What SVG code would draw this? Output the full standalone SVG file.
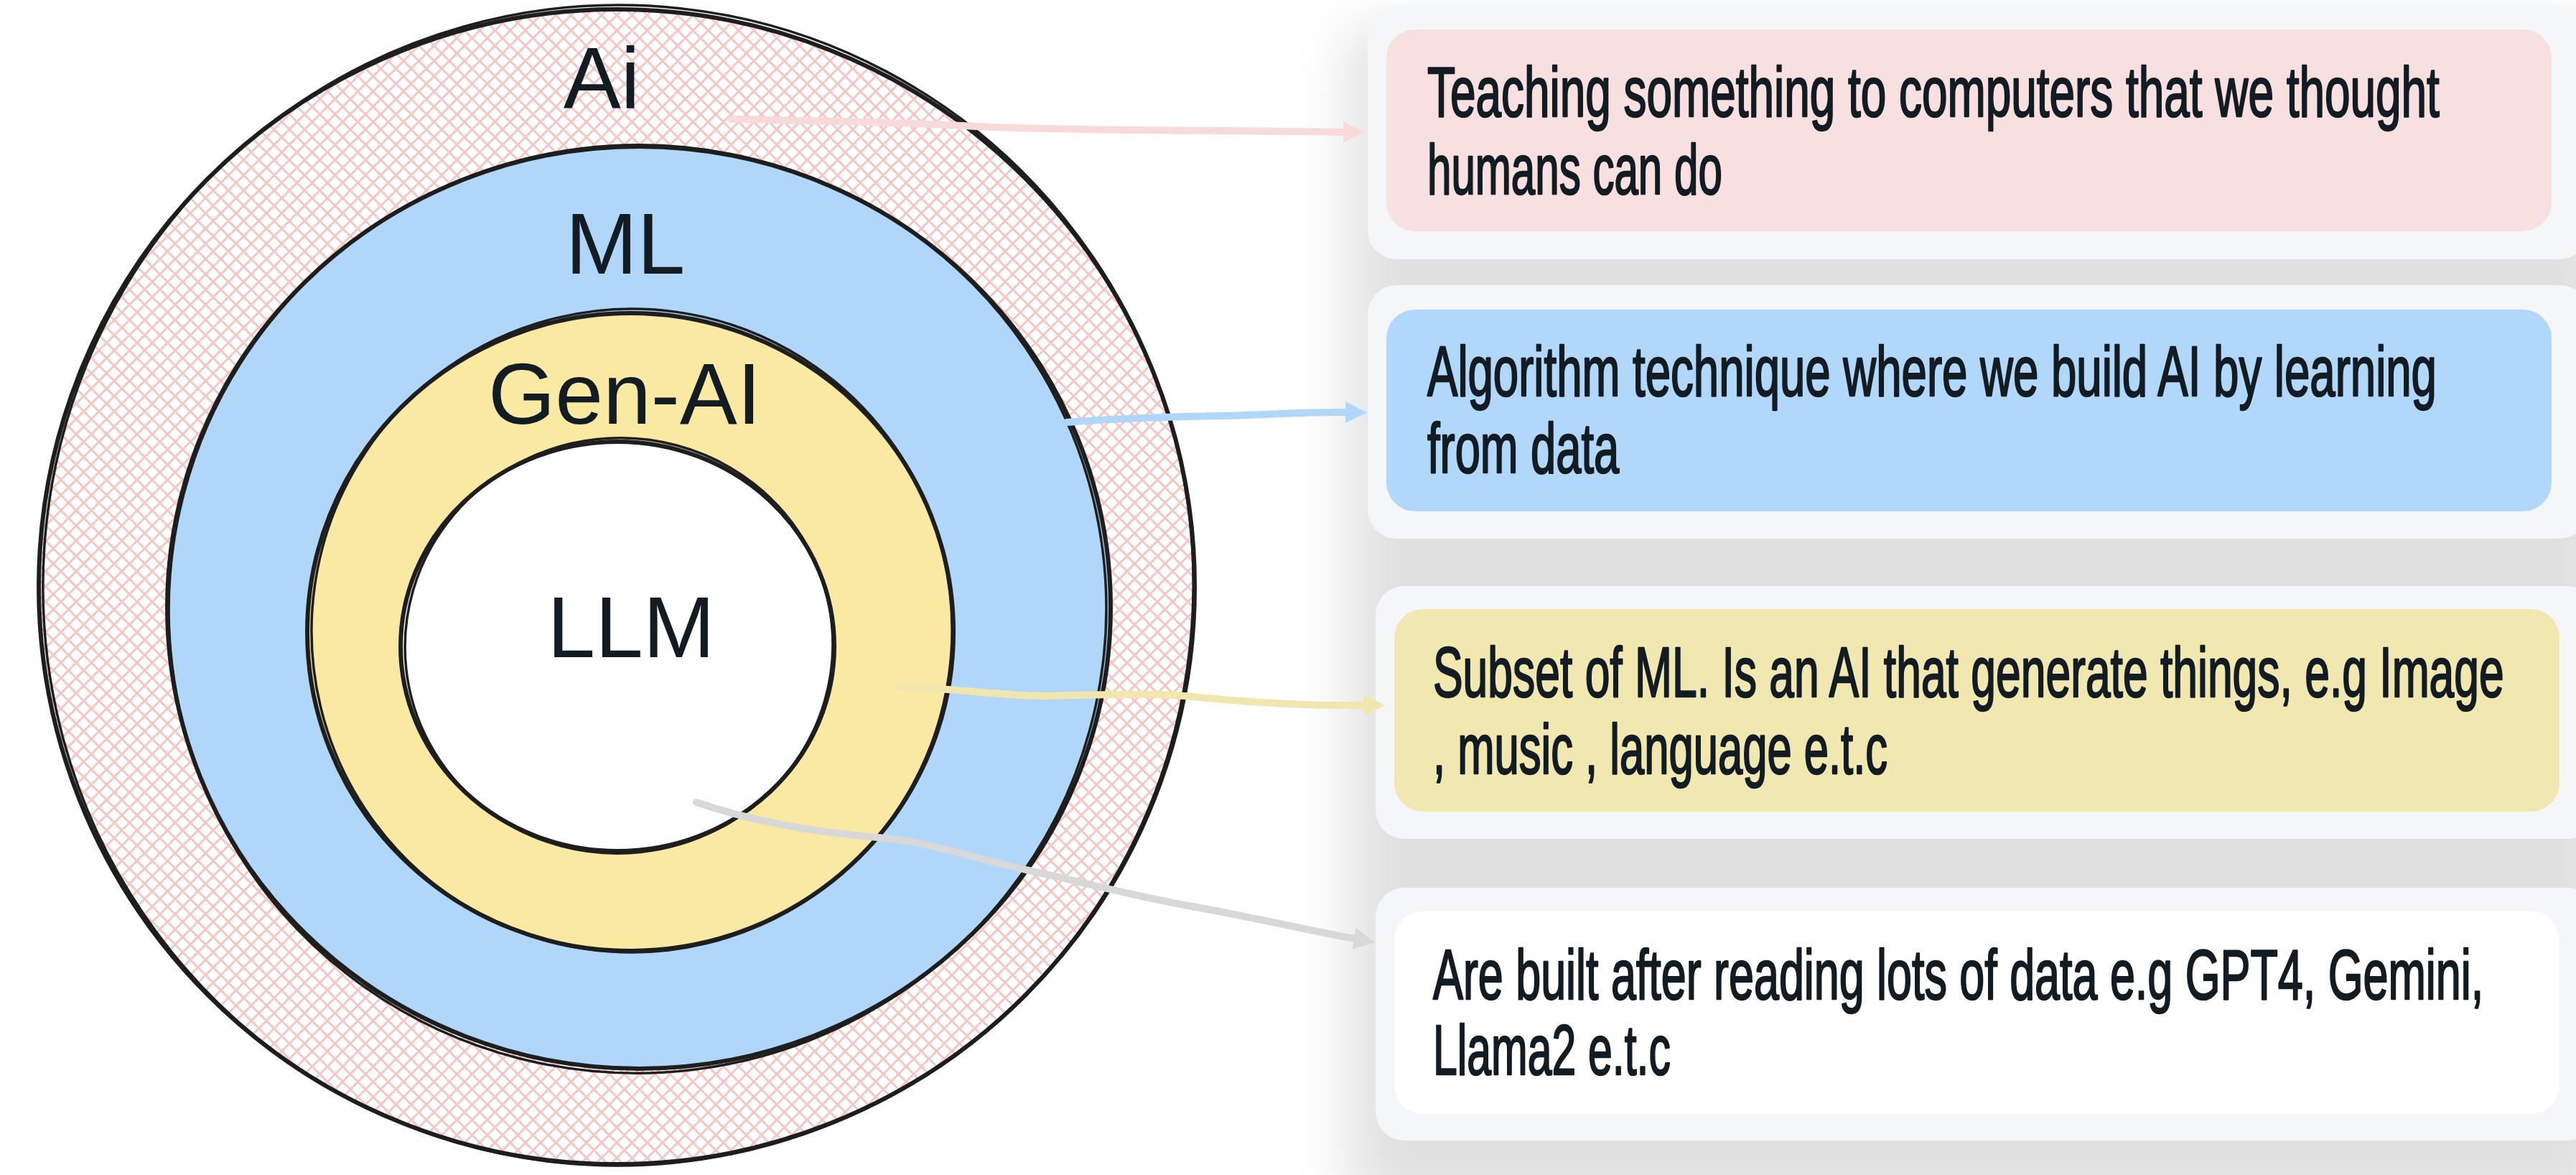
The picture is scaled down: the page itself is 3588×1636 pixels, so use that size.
<svg xmlns="http://www.w3.org/2000/svg" width="3588" height="1636" viewBox="0 0 3588 1636">
<style>
.ring{stroke:#1e1e1e;stroke-width:6;fill:none;stroke-linecap:round}
.ring2{stroke:#1e1e1e;stroke-width:3.5;fill:none}
.lbl{font-family:"Liberation Sans",Arial,sans-serif;font-size:120px;fill:#131b23;text-anchor:middle}
.txt{font-family:"Liberation Sans",Arial,sans-serif;font-size:98px;fill:#131b23;stroke:#131b23;stroke-width:2.5;stroke-linejoin:round}
.panel{fill:#f5f6f8}
.conn{fill:none;stroke-width:10;stroke-linecap:round}
</style>
<defs>
<pattern id="hatch" patternUnits="userSpaceOnUse" width="15" height="15" patternTransform="rotate(45)">
<rect width="15" height="15" fill="#ffffff"/>
<path d="M0 7.5H15M7.5 0V15" stroke="#f4c6c6" stroke-width="3"/>
</pattern>
<filter id="shadow" x="-10%" y="-10%" width="120%" height="120%">
<feGaussianBlur stdDeviation="40"/>
</filter>
<marker id="ah-pink" markerUnits="userSpaceOnUse" markerWidth="40" markerHeight="40" refX="0" refY="15" orient="auto" viewBox="0 0 40 40"><path d="M0,0 L30,15 L0,30 Z" fill="#f9dadb"/></marker>
<marker id="ah-blue" markerUnits="userSpaceOnUse" markerWidth="40" markerHeight="40" refX="0" refY="15" orient="auto" viewBox="0 0 40 40"><path d="M0,0 L30,15 L0,30 Z" fill="#b0d6fa"/></marker>
<marker id="ah-yellow" markerUnits="userSpaceOnUse" markerWidth="40" markerHeight="40" refX="0" refY="15" orient="auto" viewBox="0 0 40 40"><path d="M0,0 L30,15 L0,30 Z" fill="#f1e6ae"/></marker>
<marker id="ah-gray" markerUnits="userSpaceOnUse" markerWidth="40" markerHeight="40" refX="0" refY="15" orient="auto" viewBox="0 0 40 40"><path d="M0,0 L30,15 L0,30 Z" fill="#d8d8d8"/></marker>
</defs>
<rect width="3588" height="1636" fill="#ffffff"/>

<g id="shadow-bg">
<rect x="1880" y="40" width="1760" height="1640" fill="#e0e0e0" filter="url(#shadow)"/>
</g>

<g id="node-ai">
<ellipse cx="859" cy="817" rx="805" ry="804" fill="url(#hatch)"/>
<ellipse class="ring" cx="859" cy="817" rx="805" ry="804"/>
<ellipse class="ring2" cx="861" cy="815" rx="801" ry="808" transform="rotate(6 861 815)"/>
<text class="lbl" x="838" y="150">Ai</text>
</g>

<g id="node-ml">
<ellipse cx="890" cy="846" rx="657" ry="642" fill="#b0d6fa"/>
<ellipse class="ring" cx="890" cy="846" rx="657" ry="642"/>
<ellipse class="ring2" cx="888" cy="848" rx="653" ry="646" transform="rotate(-7 888 848)"/>
<text class="lbl" x="871" y="381">ML</text>
</g>

<g id="node-genai">
<ellipse cx="878" cy="880" rx="450" ry="444" fill="#f9e9a3"/>
<ellipse class="ring" cx="878" cy="880" rx="450" ry="444"/>
<ellipse class="ring2" cx="880" cy="878" rx="446" ry="448" transform="rotate(8 880 878)"/>
<text class="lbl" x="870" y="590">Gen-AI</text>
</g>

<g id="node-llm">
<ellipse cx="860" cy="900" rx="302" ry="285" fill="#ffffff"/>
<ellipse class="ring" cx="860" cy="900" rx="302" ry="285"/>
<ellipse class="ring2" cx="862" cy="899" rx="298" ry="289" transform="rotate(-6 862 899)"/>
<text class="lbl" x="879" y="915">LLM</text>
</g>

<g id="node-desc-ai">
<rect class="panel" x="1905" y="8" width="1700" height="353" rx="40"/>
<rect x="1931" y="41" width="1623" height="281" rx="40" fill="#f8dfe0"/>
<g transform="translate(1988 0) scale(0.65 1)">
<text class="txt" x="0" y="162" textLength="2169" lengthAdjust="spacingAndGlyphs">Teaching something to computers that we thought</text>
<text class="txt" x="0" y="270" textLength="632" lengthAdjust="spacingAndGlyphs">humans can do</text>
</g>
</g>

<g id="node-desc-ml">
<rect class="panel" x="1905" y="397" width="1700" height="353" rx="40"/>
<rect x="1931" y="431" width="1623" height="281" rx="40" fill="#b1d7fa"/>
<g transform="translate(1988 0) scale(0.65 1)">
<text class="txt" x="0" y="551" textLength="2163" lengthAdjust="spacingAndGlyphs">Algorithm technique where we build AI by learning</text>
<text class="txt" x="0" y="658" textLength="411" lengthAdjust="spacingAndGlyphs">from data</text>
</g>
</g>

<g id="node-desc-genai">
<rect class="panel" x="1916" y="816" width="1700" height="352" rx="40"/>
<rect x="1942" y="848" width="1623" height="282" rx="40" fill="#f1e8b1"/>
<g transform="translate(1996 0) scale(0.65 1)">
<text class="txt" x="0" y="970" textLength="2295" lengthAdjust="spacingAndGlyphs">Subset of ML. Is an AI that generate things, e.g Image</text>
<text class="txt" x="0" y="1077" textLength="974" lengthAdjust="spacingAndGlyphs">, music , language e.t.c</text>
</g>
</g>

<g id="node-desc-llm">
<rect class="panel" x="1916" y="1236" width="1700" height="352" rx="40"/>
<rect x="1942" y="1269" width="1623" height="282" rx="40" fill="#ffffff"/>
<g transform="translate(1996 0) scale(0.65 1)">
<text class="txt" x="0" y="1391" textLength="2251" lengthAdjust="spacingAndGlyphs">Are built after reading lots of data e.g GPT4, Gemini,</text>
<text class="txt" x="0" y="1496" textLength="509" lengthAdjust="spacingAndGlyphs">Llama2 e.t.c</text>
</g>
</g>

<g id="connectors">
<path class="conn" stroke="#f9dadb" d="M1018,166 C1150,168 1250,170 1360,176 S1700,181 1871,184" marker-end="url(#ah-pink)"/>
<path class="conn" stroke="#b0d6fa" d="M1486,588 C1560,582 1640,580 1700,579 S1820,573 1874,574" marker-end="url(#ah-blue)"/>
<path class="conn" stroke="#f1e6ae" d="M1251,956 C1330,958 1400,970 1460,969 S1600,964 1660,970 S1800,983 1899,982" marker-end="url(#ah-yellow)"/>
<path class="conn" stroke="#d8d8d8" d="M970,1117 C1060,1148 1150,1160 1223,1166 S1350,1194 1433,1212 S1580,1248 1660,1262 S1820,1295 1886,1307" marker-end="url(#ah-gray)"/>
</g>
</svg>
